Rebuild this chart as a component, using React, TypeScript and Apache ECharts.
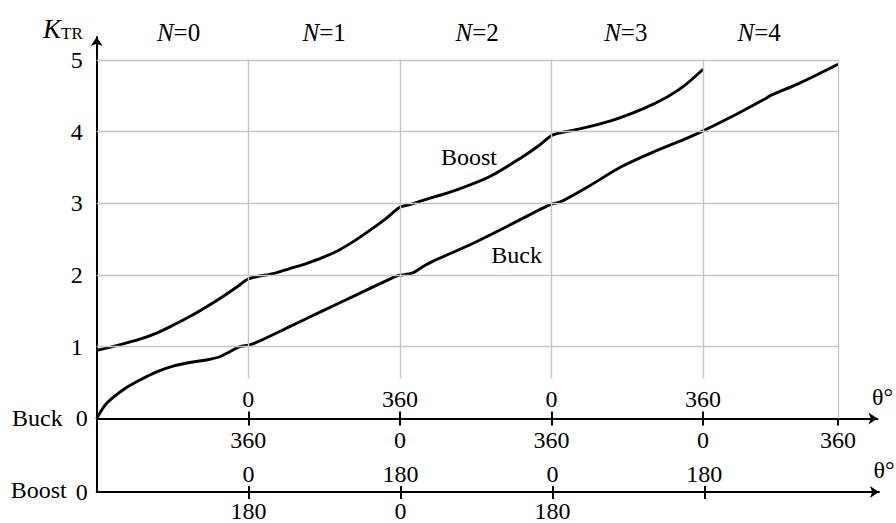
import React, { useEffect, useRef } from "react";
import * as echarts from "echarts";

// Transfer ratio curves, x in conduction-interval units (one grid cell per interval)
const buckX = [0, 0.066, 0.175, 0.285, 0.395, 0.504, 0.614, 0.724, 0.812, 0.878, 0.943, 1.0, 1.03, 1.097, 1.273, 1.49, 1.71, 1.93, 1.985, 2.03, 2.085, 2.15, 2.216, 2.48, 2.7, 2.92, 3.0, 3.06, 3.24, 3.46, 3.675, 3.895, 4.0, 4.19, 4.41, 4.45, 4.63, 4.89];
const buckY = [0, 0.21, 0.4, 0.535, 0.65, 0.73, 0.78, 0.815, 0.86, 0.93, 1.0, 1.02, 1.04, 1.1, 1.28, 1.5, 1.72, 1.94, 1.99, 2.005, 2.03, 2.115, 2.19, 2.44, 2.67, 2.91, 2.99, 3.02, 3.23, 3.51, 3.72, 3.91, 4.01, 4.21, 4.46, 4.51, 4.67, 4.94];
const boostX = [0, 0.175, 0.285, 0.395, 0.5, 0.614, 0.72, 0.833, 0.943, 0.99, 1.053, 1.163, 1.273, 1.382, 1.492, 1.6, 1.71, 1.82, 1.91, 2.0, 2.06, 2.15, 2.37, 2.59, 2.81, 2.92, 3.0, 3.05, 3.17, 3.39, 3.61, 3.76, 3.87, 4.0];
const boostY = [0.95, 1.04, 1.105, 1.19, 1.295, 1.42, 1.55, 1.7, 1.86, 1.935, 1.976, 2.02, 2.09, 2.16, 2.245, 2.35, 2.49, 2.65, 2.79, 2.945, 2.98, 3.04, 3.185, 3.37, 3.65, 3.81, 3.945, 3.98, 4.03, 4.15, 4.325, 4.48, 4.63, 4.87];

// Axis ranges
const xMax = 5.15;
const yMax = 5.32;
const yTicks = [0, 1, 2, 3, 4, 5];
const gridRight = 4.89;
const gridTop = 5;

// Angle axes
const buckTicks = [1, 2, 3, 4, 4.89];
const buckBelow = ["360", "0", "360", "0", "360"];
const buckAbove = ["0", "360", "0", "360"];
const boostTicks = [1, 2, 3, 4];
const boostAbove = ["0", "180", "0", "180"];
const boostBelow = ["180", "0", "180"];

// Interval headers
const nPos = [0.54, 1.5, 2.51, 3.49, 4.37];
const nLabels = ["0", "1", "2", "3", "4"];

// Curve name labels [x, y]
const boostLabelAt = [2.455, 3.65];
const buckLabelAt = [2.77, 2.28];

const FONT = "Liberation Serif, serif";
const GRID_COLOR = "#c6c6c6";

const pick = (pos: number[], labels: string[]) => (v: number) => {
  const i = pos.findIndex((p) => Math.abs(p - v) < 1e-6);
  return i >= 0 && i < labels.length ? labels[i] : "";
};

const textBase = { fontSize: 24, color: "#000", fontFamily: FONT };
const blackLine = { color: "#000", width: 2 };

export default function App() {
  const ref = useRef<HTMLDivElement>(null);

  useEffect(() => {
    if (!ref.current) return;
    const chart = echarts.init(ref.current, null, { renderer: "svg" });

    const gridLines: any[] = [];
    [1, 2, 3, 4, 5].forEach((y) => gridLines.push([{ coord: [0, y] }, { coord: [gridRight, y] }]));
    [1, 2, 3, 4].forEach((x) => gridLines.push([{ coord: [x, gridTop] }, { coord: [x, 0.56] }]));
    gridLines.push([{ coord: [gridRight, gridTop] }, { coord: [gridRight, 0] }]);

    const baseX = { type: "value", min: 0, max: xMax, splitLine: { show: false } };

    const curve = (name: string, xs: number[], ys: number[], labelAt: number[]) => ({
      name,
      type: "line",
      xAxisIndex: 0,
      yAxisIndex: 0,
      z: 3,
      data: xs.map((x, i) => [x, ys[i]]),
      showSymbol: false,
      smooth: 0.3,
      lineStyle: { color: "#000", width: 2.9 },
      markPoint: {
        silent: true,
        symbol: "circle",
        symbolSize: 1,
        itemStyle: { color: "rgba(0,0,0,0)" },
        label: { show: true, position: "inside", formatter: name, ...textBase },
        data: [{ coord: labelAt }],
      },
    });

    chart.setOption({
      animation: false,
      backgroundColor: "#fff",
      grid: [
        { left: 96.7, right: 17, top: 37, bottom: 104.6 },
        { left: 96.7, right: 17, top: 418.4, bottom: 30 },
      ],
      xAxis: [
        {
          ...baseX,
          gridIndex: 0,
          position: "bottom",
          axisLine: { onZero: false, symbol: ["none", "arrow"], symbolSize: [9, 9], lineStyle: blackLine },
          axisTick: { customValues: buckTicks, length: 7, lineStyle: blackLine },
          axisLabel: { customValues: buckTicks, formatter: pick(buckTicks, buckBelow), margin: 10, ...textBase },
          name: "θ°",
          nameLocation: "end",
          nameGap: 5,
          nameTextStyle: { ...textBase, align: "center", verticalAlign: "bottom", padding: [0, 0, 9, 0] },
        },
        {
          ...baseX,
          gridIndex: 0,
          position: "bottom",
          axisLine: { show: false, onZero: false },
          axisTick: { customValues: [1, 2, 3, 4], inside: true, length: 7, lineStyle: blackLine },
          axisLabel: { customValues: [1, 2, 3, 4], inside: true, formatter: pick(buckTicks, buckAbove), margin: 7, ...textBase },
        },
        {
          ...baseX,
          gridIndex: 1,
          position: "bottom",
          axisLine: { onZero: false, symbol: ["none", "arrow"], symbolSize: [9, 9], lineStyle: blackLine },
          axisTick: { customValues: boostTicks, length: 7, lineStyle: blackLine },
          axisLabel: { customValues: [1, 2, 3], formatter: pick(boostTicks, boostBelow), margin: 7, ...textBase },
          name: "θ°",
          nameLocation: "end",
          nameGap: 5,
          nameTextStyle: { ...textBase, align: "center", verticalAlign: "bottom", padding: [0, 0, 10, 0] },
        },
        {
          ...baseX,
          gridIndex: 1,
          position: "bottom",
          axisLine: { show: false, onZero: false },
          axisTick: { customValues: boostTicks, inside: true, length: 6, lineStyle: blackLine },
          axisLabel: { customValues: boostTicks, inside: true, formatter: pick(boostTicks, boostAbove), margin: 6, ...textBase },
        },
        {
          ...baseX,
          gridIndex: 0,
          position: "top",
          axisLine: { show: false },
          axisTick: { show: false },
          axisLabel: {
            customValues: nPos,
            formatter: (v: number) => {
              const s = pick(nPos, nLabels)(v);
              return s ? `{i|N}{r|=${s}}` : "";
            },
            verticalAlign: "middle",
            margin: 5,
            rich: {
              i: { fontSize: 25, fontStyle: "italic", fontFamily: FONT, color: "#000" },
              r: { fontSize: 25, fontFamily: FONT, color: "#000" },
            },
          },
        },
      ],
      yAxis: [
        {
          type: "value",
          gridIndex: 0,
          min: 0,
          max: yMax,
          splitLine: { show: false },
          axisLine: { onZero: false, symbol: ["none", "arrow"], symbolSize: [9, 9], lineStyle: blackLine },
          axisTick: { show: false },
          axisLabel: {
            customValues: yTicks,
            margin: 9,
            formatter: (v: number) => (v === 0 ? "{u|Buck}{z|0}" : `{n|${v}}`),
            rich: {
              u: { ...textBase, padding: [0, 13, 0, 0] },
              z: { ...textBase },
              n: { ...textBase, padding: [0, 5, 0, 0] },
            },
          },
        },
        {
          type: "value",
          gridIndex: 1,
          min: 0,
          max: 1,
          splitLine: { show: false },
          axisLine: { onZero: false, lineStyle: blackLine },
          axisTick: { show: false },
          axisLabel: {
            customValues: [0],
            margin: 9,
            formatter: () => "{t|Boost}{z|0}",
            rich: {
              t: { ...textBase, padding: [0, 9, 4, 0] },
              z: { ...textBase },
            },
          },
        },
      ],
      graphic: [
        {
          type: "text",
          x: 43,
          y: 42,
          style: {
            text: "{k|K}{s|TR}",
            verticalAlign: "bottom",
            rich: {
              k: { fontSize: 27, fontStyle: "italic", fontFamily: FONT, fill: "#000", verticalAlign: "bottom" },
              s: { fontSize: 17, fontFamily: FONT, fill: "#000", verticalAlign: "bottom" },
            },
          },
        },
      ],
      series: [
        {
          type: "line",
          xAxisIndex: 0,
          yAxisIndex: 0,
          data: [],
          z: 1,
          silent: true,
          markLine: {
            silent: true,
            symbol: ["none", "none"],
            label: { show: false },
            lineStyle: { color: GRID_COLOR, width: 1.4, type: "solid" },
            data: gridLines,
          },
        },
        curve("Buck", buckX, buckY, buckLabelAt),
        curve("Boost", boostX, boostY, boostLabelAt),
      ],
    });

    return () => chart.dispose();
  }, []);

  return (
    <div
      ref={ref}
      style={{ position: "fixed", left: 0, top: 0, width: 896, height: 523, background: "#fff" }}
    />
  );
}
